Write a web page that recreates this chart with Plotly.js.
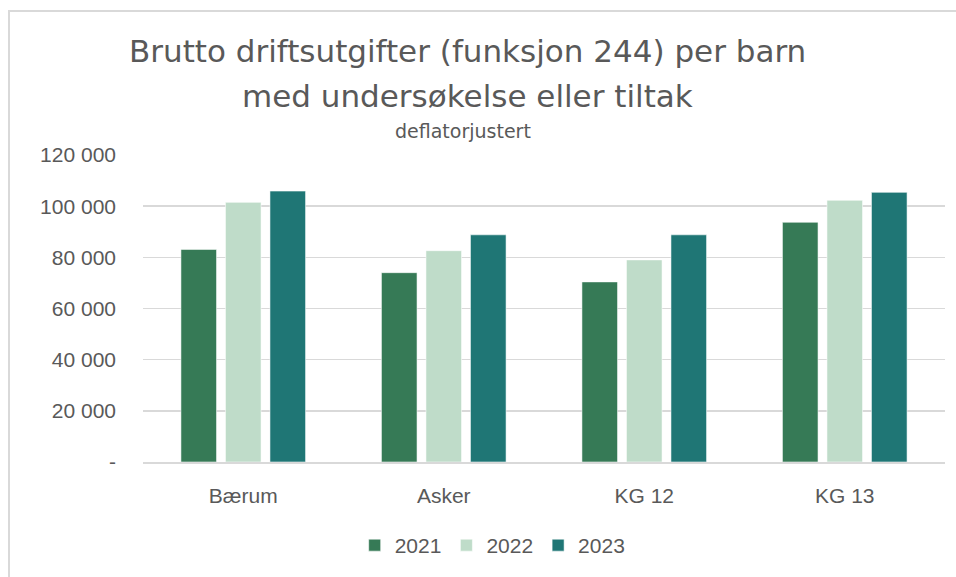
<!DOCTYPE html>
<html>
<head>
<meta charset="utf-8">
<script src="https://cdn.plot.ly/plotly-3.0.1.min.js"></script>
<style>
  html, body { margin: 0; padding: 0; background: #ffffff; }
  #frame { position: absolute; left: 8px; top: 10px; width: 980px; height: 600px; border: 2px solid #d9d9d9; box-sizing: border-box; }
  #chart { position: absolute; left: 0; top: 0; width: 956px; height: 577px; }
</style>
</head>
<body>
<div id="frame"></div>
<div id="chart"></div>
<script>
const categories = ["Bærum", "Asker", "KG 12", "KG 13"];
const years = ["2021", "2022", "2023"];
const values2021 = [83100, 74000, 70400, 93700];
const values2022 = [101500, 82600, 79000, 102300];
const values2023 = [105900, 88800, 88800, 105400];
const yTickVals = [0, 20000, 40000, 60000, 80000, 100000, 120000];
const yTickText = ["-", "20 000", "40 000", "60 000", "80 000", "100 000", "120 000"];
const colors = ["#367a56", "#bfdcc9", "#1f7675"];

const series = [values2021, values2022, values2023];
const traces = series.map((vals, i) => ({
  type: "bar",
  name: years[i],
  x: categories,
  y: vals,
  marker: { color: colors[i], line: { color: "rgba(255,255,255,0.55)", width: 1 } },
  hoverinfo: "skip"
}));

const textColor = "#595959";
const titleFont = "DejaVu Sans, Open Sans, sans-serif";
const layout = {
  width: 956,
  height: 577,
  paper_bgcolor: "rgba(0,0,0,0)",
  plot_bgcolor: "rgba(0,0,0,0)",
  margin: { l: 143, r: 11, t: 155, b: 113 },
  barmode: "group",
  bargap: 0.334,
  bargroupgap: 0.2,
  font: { family: "Liberation Sans, Arial, sans-serif", size: 21, color: textColor },
  showlegend: true,
  legend: {
    orientation: "h",
    x: 0.436, xanchor: "center",
    y: -0.272, yanchor: "middle",
    font: { size: 21, color: textColor },
    itemwidth: 30,
    traceorder: "normal"
  },
  xaxis: {
    showgrid: false,
    showline: true,
    linecolor: "#d9d9d9",
    linewidth: 2,
    ticks: "",
    ticklabelstandoff: 14,
    tickfont: { size: 21, color: textColor }
  },
  yaxis: {
    range: [0, 120000],
    tickvals: yTickVals,
    ticktext: yTickText,
    showgrid: true,
    gridcolor: "#d9d9d9",
    gridwidth: 1.5,
    zeroline: false,
    showline: false,
    ticks: "",
    ticklabelstandoff: 26,
    tickfont: { size: 21, color: textColor }
  },
  annotations: [
    { text: "Brutto driftsutgifter (funksjon 244) per barn", xref: "paper", yref: "paper",
      x: (467 - 143) / 802, y: (464 - 50) / 309, xanchor: "center", yanchor: "middle", showarrow: false,
      font: { family: titleFont, size: 31, color: textColor } },
    { text: "med undersøkelse eller tiltak", xref: "paper", yref: "paper",
      x: (467 - 143) / 802, y: (464 - 96) / 309, xanchor: "center", yanchor: "middle", showarrow: false,
      font: { family: titleFont, size: 31, color: textColor } },
    { text: "deflatorjustert", xref: "paper", yref: "paper",
      x: (463 - 143) / 802, y: (464 - 131) / 309, xanchor: "center", yanchor: "middle", showarrow: false,
      font: { family: titleFont, size: 19, color: textColor } }
  ]
};

Plotly.newPlot("chart", traces, layout, { displayModeBar: false, staticPlot: true });
</script>
</body>
</html>
